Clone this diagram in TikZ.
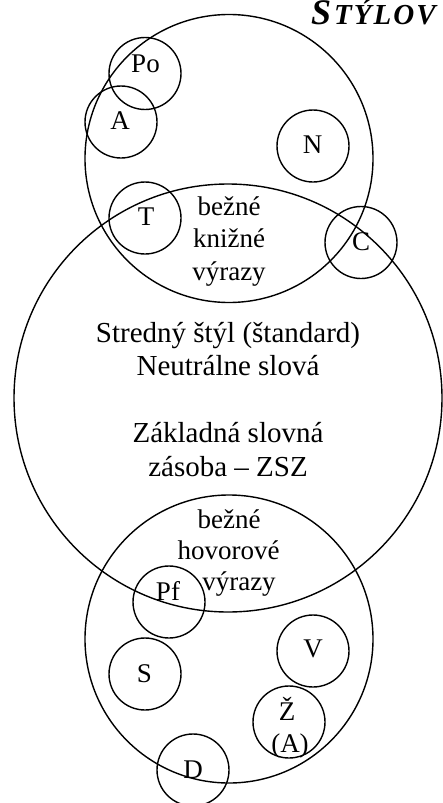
\documentclass[tikz,border=0pt]{standalone}
\usepackage{fontspec}
\setmainfont{Liberation Serif}
\begin{document}
\begin{tikzpicture}[x=1pt,y=-1pt,
  ring/.style={draw, circle, line width=1.4pt, inner sep=0pt, minimum size=#1},
  lbl/.style={anchor=base, inner sep=0pt, font=\fontsize{27}{31}\selectfont},
  mlbl/.style={anchor=base, inner sep=0pt, font=\fontsize{29}{33}\selectfont}]
\useasboundingbox (0,0) rectangle (443,803);
% large circles
\node[ring=288pt] (kniz) at (229,158.5) {};
\node[ring=428pt] (stred) at (228,398) {};
\node[ring=288pt] (hov) at (229,639) {};
% small circles
\node[ring=72pt] (po) at (145,73.5) {};
\node[ring=72pt] (a) at (121,122) {};
\node[ring=72pt] (n) at (313,146) {};
\node[ring=72pt] (t) at (145,218) {};
\node[ring=72pt] (c) at (361,242.5) {};
\node[ring=72pt] (pf) at (169,602) {};
\node[ring=72pt] (s) at (145,674) {};
\node[ring=72pt] (v) at (313,651) {};
\node[ring=72pt] (z) at (289,722) {};
\node[ring=72pt] (d) at (193,770) {};
% labels
\node[lbl] (lpo) at (145.5,72.7) {Po};
\node[lbl] (la) at (120,129.3) {A};
\node[lbl] (ln) at (312.5,153.3) {N};
\node[lbl] (lt) at (146,225) {T};
\node[lbl] (lc) at (361,250) {C};
\node[lbl] (lpf) at (168,600) {Pf};
\node[lbl] (ls) at (144.5,682) {S};
\node[lbl] (lv) at (313,657) {V};
\node[lbl] (lz) at (287,720) {Ž};
\node[lbl] (lza) at (290,752) {(A)};
\node[lbl] (ld) at (193,778) {D};
% book text
\node[lbl] (k1) at (229,215) {bežné};
\node[lbl] (k2) at (229,247.5) {knižné};
\node[lbl] (k3) at (229,280) {výrazy};
% middle text
\node[mlbl] (m1) at (228,342.5) {Stredný štýl (štandard)};
\node[mlbl] (m2) at (228,375.5) {Neutrálne slová};
\node[mlbl] (m3) at (228,442.5) {Základná slovná};
\node[mlbl] (m4) at (228,476) {zásoba – ZSZ};
% colloquial text
\node[lbl] (h1) at (229,528) {bežné};
\node[lbl] (h2) at (228.5,559) {hovorové};
\node[lbl] (h3) at (239,590) {výrazy};
% title
\node[anchor=base west, inner sep=0pt, font=\bfseries\itshape] (title) at (311,24)
  {{\fontsize{36}{36}\selectfont S}\kern3pt{\fontsize{29}{29}\selectfont T\kern2pt Ý\kern2pt L\kern2pt O\kern2pt V}};
\end{tikzpicture}
\end{document}
